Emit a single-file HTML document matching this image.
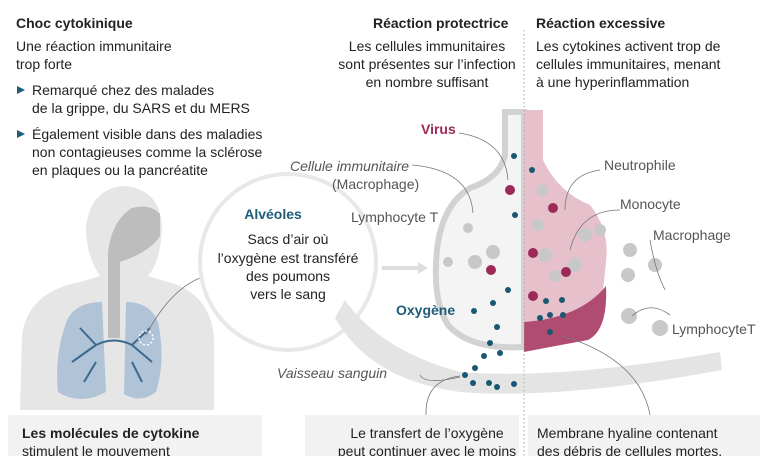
<!DOCTYPE html>
<html><head><meta charset="utf-8"><style>
body{margin:0;width:768px;height:456px;overflow:hidden;background:#fff;font-family:"Liberation Sans",sans-serif}
svg{display:block}
text{font-family:"Liberation Sans",sans-serif;font-size:14px;fill:#222}
.g{fill:#555}.b{font-weight:bold}.i{font-style:italic}
</style></head><body>
<svg width="768" height="456" viewBox="0 0 768 456">
<!-- body silhouette -->
<path d="M20 410 L22 335 Q28 292 80 282 L100 276 Q86 255 86 228 Q90 188 125 186 Q162 190 162 230 Q160 262 148 276 L175 284 Q212 298 214 340 L214 410 Z" fill="#e6e6e6"/>
<path d="M108 252 L108 338 L120 338 L120 262 Q150 252 160 236 L160 214 Q150 203 132 208 Q112 220 108 252Z" fill="#bdbdbd"/>
<path d="M68 318 Q78 302 102 302 L106 392 Q80 406 58 392 Q54 352 68 318Z" fill="#b1c3d6"/>
<path d="M126 302 Q150 302 158 322 Q166 360 156 392 Q140 404 124 394Z" fill="#b1c3d6"/>
<path d="M96 345 Q114 336 132 345 M72 362 L96 345 M152 362 L132 345 M80 328 L96 345 M150 328 L132 345 M84 382 L96 362 M142 382 L132 362" stroke="#3a6a8f" stroke-width="2" fill="none"/>
<circle cx="146" cy="338" r="7" fill="none" stroke="#fff" stroke-width="1.5" stroke-dasharray="2 2"/>
<path d="M146 335 Q170 290 200 278" stroke="#777" fill="none" stroke-width=".8"/>
<!-- circle -->
<circle cx="288" cy="262" r="88" fill="#fff" stroke="#e8e8e8" stroke-width="4"/>
<path d="M382 268 L420 268" stroke="#ddd" stroke-width="4"/><path d="M418 262 L428 268 L418 274Z" fill="#ddd"/>
<!-- vessel -->
<path d="M345 300 Q380 350 460 372 Q560 380 720 352 L722 370 Q560 400 460 392 Q370 380 335 318Z" fill="#e4e4e4"/>
<!-- alveolus left -->
<path d="M505 112 L524 112 L524 347 Q470 350 448 325 Q432 300 437 250 Q442 205 470 188 Q500 178 505 155Z" fill="#f4f4f4" stroke="#d2d2d2" stroke-width="6"/>
<!-- right -->
<path d="M524 110 L543 110 L543 160 Q558 192 590 205 Q610 230 606 262 L602 300 Q592 322 560 330 L524 345Z" fill="#e6c0cb"/>
<path d="M524 322 Q580 318 606 286 Q608 330 588 340 Q555 346 524 352Z" fill="#b04c72"/>
<line x1="524" y1="30" x2="524" y2="456" stroke="#aaa" stroke-dasharray="1.5 2.5"/>
<!-- cells -->
<g fill="#c8c8c8"><circle cx="475" cy="262" r="7"/><circle cx="493" cy="252" r="7"/><circle cx="468" cy="228" r="5"/><circle cx="448" cy="262" r="5"/><circle cx="545" cy="255" r="7"/><circle cx="538" cy="225" r="6"/><circle cx="555" cy="276" r="6"/><circle cx="585" cy="235" r="7"/><circle cx="575" cy="265" r="7"/><circle cx="630" cy="250" r="7"/><circle cx="655" cy="265" r="7"/><circle cx="628" cy="275" r="7"/><circle cx="660" cy="328" r="8"/><circle cx="629" cy="316" r="8"/><circle cx="542" cy="190" r="6"/><circle cx="600" cy="230" r="6"/></g>
<g fill="#9b2a5a"><circle cx="491" cy="270" r="5"/><circle cx="510" cy="190" r="5"/><circle cx="533" cy="253" r="5"/><circle cx="566" cy="272" r="5"/><circle cx="553" cy="208" r="5"/><circle cx="533" cy="296" r="5"/></g>
<g fill="#1a5770"><circle cx="514" cy="156" r="3"/><circle cx="508" cy="290" r="3"/><circle cx="493" cy="303" r="3"/><circle cx="474" cy="311" r="3"/><circle cx="497" cy="327" r="3"/><circle cx="490" cy="343" r="3"/><circle cx="500" cy="353" r="3"/><circle cx="484" cy="356" r="3"/><circle cx="475" cy="368" r="3"/><circle cx="465" cy="375" r="3"/><circle cx="473" cy="383" r="3"/><circle cx="489" cy="383" r="3"/><circle cx="497" cy="387" r="3"/><circle cx="514" cy="384" r="3"/><circle cx="546" cy="301" r="3"/><circle cx="562" cy="300" r="3"/><circle cx="540" cy="318" r="3"/><circle cx="563" cy="315" r="3"/><circle cx="550" cy="315" r="3"/><circle cx="550" cy="332" r="3"/><circle cx="515" cy="215" r="3"/><circle cx="532" cy="170" r="3"/></g>
<g stroke="#777" fill="none" stroke-width=".8"><path d="M420 375 Q425 385 460 377"/><path d="M563 336 Q640 360 650 415"/><path d="M426 415 Q425 380 460 376"/><path d="M650 240 Q655 270 665 290"/><path d="M670 315 Q650 300 632 316"/><path d="M620 210 Q580 210 570 250"/><path d="M600 170 Q565 175 565 210"/><path d="M459 133 Q505 140 508 180"/><path d="M412 165 Q470 170 473 213"/></g>
<!-- bottom boxes -->
<rect x="8" y="415" width="254" height="45" fill="#f2f2f2"/>
<rect x="305" y="415" width="214" height="45" fill="#f2f2f2"/>
<rect x="528" y="415" width="232" height="45" fill="#f2f2f2"/>
<!-- text -->
<text x="16" y="28" class="b">Choc cytokinique</text>
<text x="373" y="28" class="b">Réaction protectrice</text>
<text x="536" y="28" class="b">Réaction excessive</text>
<text x="16" y="51">Une réaction immunitaire</text><text x="16" y="69">trop forte</text>
<path d="M17 86 L25 90 L17 94Z" fill="#1f5c7a"/><path d="M17 130 L25 134 L17 138Z" fill="#1f5c7a"/>
<text x="32" y="95">Remarqué chez des malades</text><text x="32" y="113">de la grippe, du SARS et du MERS</text>
<text x="32" y="139">Également visible dans des maladies</text><text x="32" y="157">non contagieuses comme la sclérose</text><text x="32" y="175">en plaques ou la pancréatite</text>
<text x="427" y="51" text-anchor="middle">Les cellules immunitaires</text><text x="427" y="69" text-anchor="middle">sont présentes sur l’infection</text><text x="427" y="87" text-anchor="middle">en nombre suffisant</text>
<text x="536" y="51">Les cytokines activent trop de</text><text x="536" y="69">cellules immunitaires, menant</text><text x="536" y="87">à une hyperinflammation</text>
<text x="421" y="134" class="b" style="fill:#9b2a5a">Virus</text>
<text x="290" y="171" class="g i">Cellule immunitaire</text><text x="332" y="189" class="g">(Macrophage)</text>
<text x="351" y="222" class="g">Lymphocyte T</text>
<text x="273" y="219" class="b" text-anchor="middle" style="fill:#1f5c7a">Alvéoles</text>
<text x="288" y="244" text-anchor="middle">Sacs d’air où</text><text x="288" y="263" text-anchor="middle">l’oxygène est transféré</text><text x="288" y="281" text-anchor="middle">des poumons</text><text x="288" y="299" text-anchor="middle">vers le sang</text>
<text x="396" y="315" class="b" style="fill:#1f5c7a">Oxygène</text>
<text x="277" y="378" class="g i">Vaisseau sanguin</text>
<text x="604" y="170" class="g">Neutrophile</text><text x="620" y="209" class="g">Monocyte</text><text x="653" y="240" class="g">Macrophage</text><text x="672" y="334" class="g">LymphocyteT</text>
<text x="22" y="438" class="b">Les molécules de cytokine</text><text x="22" y="456">stimulent le mouvement</text>
<text x="427" y="438" text-anchor="middle">Le transfert de l’oxygène</text><text x="427" y="456" text-anchor="middle">peut continuer avec le moins</text>
<text x="537" y="438">Membrane hyaline contenant</text><text x="537" y="456">des débris de cellules mortes,</text>
</svg>
</body></html>
